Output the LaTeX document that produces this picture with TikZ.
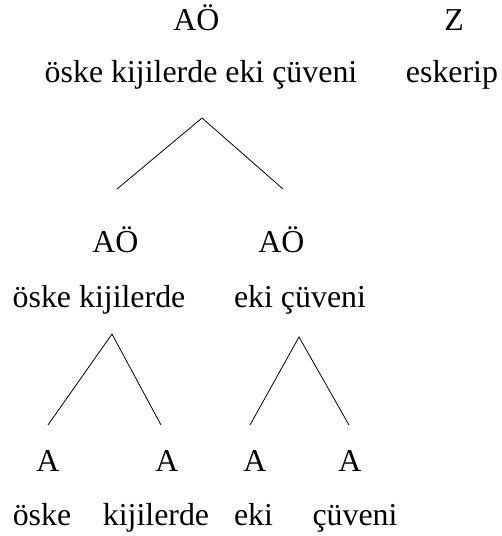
\documentclass[tikz,border=0pt]{standalone}
\usepackage{fontspec}
\setmainfont{Liberation Serif}
\usepackage{tikz}

\begin{document}
\begin{tikzpicture}[
    x=1bp, y=-1bp,
    cat/.style={anchor=base, inner sep=0pt, font=\fontsize{32}{36}\selectfont},
    word/.style={anchor=base, inner sep=0pt, font=\fontsize{32}{36}\selectfont},
    branch/.style={line width=0.8pt}
  ]
  \useasboundingbox (0,0) rectangle (502,536);

  % top level
  \node[cat]  (aoTop) at (196.5,31) {AÖ};
  \node[cat]  (zTop)  at (454,31)   {Z};
  \node[word] (phrTop) at (201,83)  {öske kijilerde eki çüveni};
  \node[word] (vTop)  at (452,83)   {eskerip};

  % middle level
  \node[cat]  (aoL)  at (115.5,252) {AÖ};
  \node[cat]  (aoR)  at (281.5,252) {AÖ};
  \node[word] (phrL) at (99,307)    {öske kijilerde};
  \node[word] (phrR) at (300,307)   {eki çüveni};

  % bottom level
  \node[cat]  (a1) at (48,471)  {A};
  \node[cat]  (a2) at (167,471) {A};
  \node[cat]  (a3) at (255,471) {A};
  \node[cat]  (a4) at (350,471) {A};
  \node[word] (w1) at (42,525)    {öske};
  \node[word] (w2) at (156,525)   {kijilerde};
  \node[word] (w3) at (253.5,525) {eki};
  \node[word] (w4) at (355,525)   {çüveni};

  % branch ends
  \coordinate (topApex) at (202,118);
  \coordinate (topL)    at (117,189);
  \coordinate (topR)    at (283,189);
  \coordinate (lApex)   at (112,334);
  \coordinate (lL)      at (48,425);
  \coordinate (lR)      at (161,425);
  \coordinate (rApex)   at (299,337);
  \coordinate (rL)      at (250,425);
  \coordinate (rR)      at (349,425);

  \draw[branch] (topL) -- (topApex) -- (topR);
  \draw[branch] (lL) -- (lApex) -- (lR);
  \draw[branch] (rL) -- (rApex) -- (rR);
\end{tikzpicture}
\end{document}
